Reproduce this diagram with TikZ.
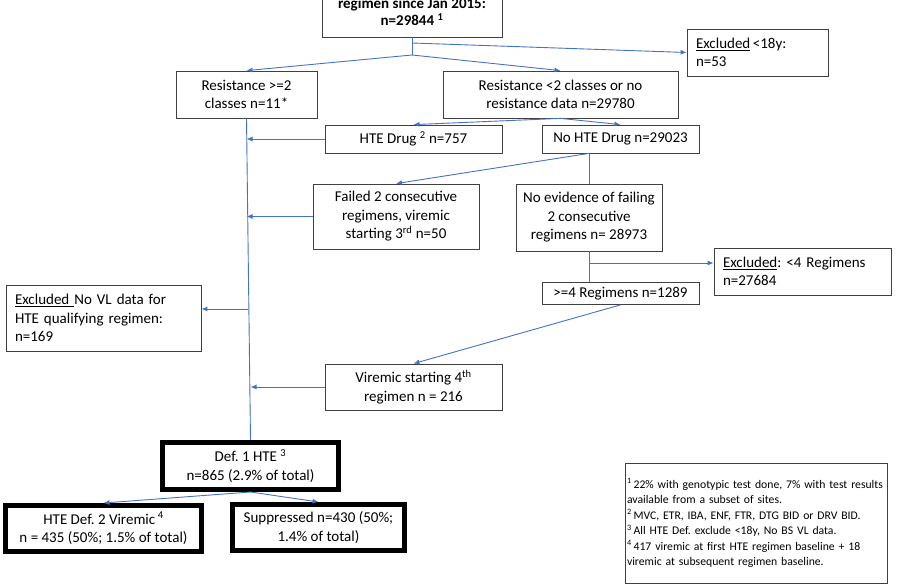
\documentclass[tikz,border=0pt]{standalone}
\usepackage{fontspec}
\setmainfont{Carlito}
\usetikzlibrary{arrows.meta}
\frenchspacing
\definecolor{bleu}{HTML}{4472C4}
\tikzset{
  boite/.style={draw=black!75, line width=0.8pt, align=center, inner sep=0pt,
    font=\fontsize{15}{18.5}\selectfont},
  exclu/.style={boite, align=left, inner xsep=9pt},
  grosse/.style={boite, draw=black, line width=5pt},
  lien/.style={draw=bleu, line width=0.9pt},
  fl/.style={lien, -{Latex[length=6pt,width=5pt]}},
}
\begin{document}
\begin{tikzpicture}[x=1pt, y=-1pt]
  \useasboundingbox (0,0) rectangle (908,585);

  % Les boites
  \node[boite, font=\fontsize{15}{17}\selectfont\bfseries, minimum width=180, minimum height=50] (depart) at (412,12) {regimen since Jan 2015:\\n=29844 \textsuperscript{1}};
  \node[exclu, text width=123, minimum height=47] (moins18) at (757.5,52.5) {\underline{Excluded}\,<18y:\\n=53};
  \node[boite, minimum width=141, minimum height=47] (res2) at (246.5,94.5) {Resistance >=2\\classes n=11*};
  \node[boite, minimum width=235, minimum height=47] (res1) at (560.5,94.5) {Resistance <2 classes or no\\resistance data n=29780};
  \node[boite, minimum width=177, minimum height=28] (hte) at (413.5,139) {HTE Drug \textsuperscript{2} n=757};
  \node[boite, minimum width=157, minimum height=28] (nohte) at (620.5,139) {No HTE Drug n=29023};
  \node[boite, minimum width=166, minimum height=65] (echec) at (396,216.5) {Failed 2 consecutive\\regimens, viremic\\starting 3\textsuperscript{rd} n=50};
  \node[boite, minimum width=146, minimum height=67] (nopreuve) at (589,217.5) {No evidence of failing\\2 consecutive\\regimens n= 28973};
  \node[boite, minimum width=157, minimum height=22] (quatre) at (620.5,293.5) {>=4 Regimens n=1289};
  \node[exclu, text width=159, minimum height=47] (moins4) at (802.5,271.5) {\underline{Excluded}: <4 Regimens\\n=27684};
  \node[exclu, text width=177, minimum height=66] (sansvl) at (103.5,318) {\underline{Excluded\ }No VL data for\\HTE qualifying regimen:\\n=169};
  \node[boite, minimum width=177, minimum height=46] (vir4) at (413.5,387) {Viremic starting 4\textsuperscript{th}\\regimen n = 216};

  % Les resultats
  \node[grosse, minimum width=176, minimum height=47] (def1) at (250.5,466) {Def. 1 HTE \textsuperscript{3}\\n=865 (2.9\% of total)};
  \node[grosse, minimum width=196, minimum height=46] (def2) at (103.5,528.5) {HTE Def. 2 Viremic\,\textsuperscript{4}\\n = 435 (50\%; 1.5\% of total)};
  \node[grosse, minimum width=172, minimum height=46] (supp) at (318.5,527.5) {Suppressed n=430 (50\%;\\1.4\% of total)};

  % Les notes
  \node[boite, align=left, font=\fontsize{11.7}{15.5}\selectfont, text width=258, inner xsep=2, minimum height=120] (notes) at (756,523) {\textsuperscript{1}\,22\% with genotypic test done, 7\% with test results\\available from a subset of sites.\\\textsuperscript{2}\,MVC, ETR, IBA, ENF, FTR, DTG BID or DRV BID.\\\textsuperscript{3}\,All HTE Def. exclude <18y, No BS VL data.\\\textsuperscript{4}\,417 viremic at first HTE regimen baseline + 18\\viremic at subsequent regimen baseline.};

  % Les embranchements
  \coordinate (j1) at (412,43);
  \coordinate (j0) at (412,55);
  \coordinate (j2) at (248,309);
  \coordinate (j3) at (nopreuve.north |- nohte.south);
  \coordinate (j4) at (589,263);

  % Les fleches
  \draw[lien] (depart.south) -- (j0);
  \draw[fl] (j1) -- (moins18.west);
  \draw[fl] (j0) -- (res2.north);
  \draw[fl] (j0) -- (res1.north);
  \draw[fl] (res1.south) -- (hte.north);
  \draw[fl] (res1.south) -- (nohte.north);
  \draw[lien] (res2.south) -- (def1.north);  % tronc
  \draw[fl] (hte.west) -- (hte.west -| res2.south);
  \draw[fl] (echec.west) -- (echec.west -| res2.south);
  \draw[fl] (vir4.west) -- (vir4.west -| def1.north);
  \draw[fl] (j2) -- (j2 -| sansvl.east);
  \draw[fl] (j3) -- (echec.north);
  \draw[lien] (j3) -- (nopreuve.north);
  \draw[lien] (nopreuve.south) -- (nopreuve.south |- quatre.north);
  \draw[fl] (j4) -- (j4 -| moins4.west);
  \draw[fl] (quatre.south) -- (vir4.north);
  \draw[fl] (def1.south) -- (def2.north);
  \draw[fl] (def1.south) -- (supp.north);
\end{tikzpicture}
\end{document}
